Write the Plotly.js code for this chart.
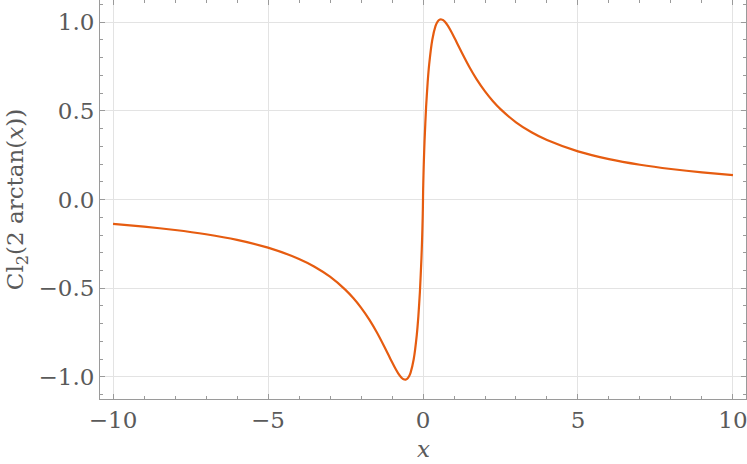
<!DOCTYPE html>
<html>
<head>
<meta charset="utf-8">
<script src="https://cdn.plot.ly/plotly-3.0.1.min.js"></script>
<style>
  body { margin: 0; background: #fff; }
  #chart { width: 747px; height: 464px; }
</style>
</head>
<body>
<div id="chart"></div>
<script>
// Cl2(2 arctan(x)), values
const xs = [-10, -9, -8, -7, -6, -5, -4, -3.5, -3, -2.5, -2.25, -2, -1.732, -1.5, -1.25, -1.1, -1, -0.9, -0.8,
  -0.7, -0.65, -0.6, -0.577, -0.55, -0.5, -0.45, -0.4, -0.3, -0.2, -0.15, -0.1, -0.05, -0.03, -0.02, -0.01,
  -0.005, -0.0025, -0.001, 0,
  0.001, 0.0025, 0.005, 0.01, 0.02, 0.03, 0.05, 0.1, 0.15, 0.2, 0.3, 0.4, 0.45, 0.5, 0.55, 0.577, 0.6, 0.65,
  0.7, 0.8, 0.9, 1, 1.1, 1.25, 1.5, 1.732, 2, 2.25, 2.5, 3, 3.5, 4, 5, 6, 7, 8, 9, 10];
const ys = [-0.1378, -0.1530, -0.1718, -0.1958, -0.2274, -0.2711, -0.3347, -0.3786, -0.4349, -0.5089, -0.5550,
  -0.6088, -0.6766, -0.7450, -0.8279, -0.8808, -0.9160, -0.9495, -0.9795, -1.0026, -1.0103, -1.0145, -1.0149,
  -1.0142, -1.0084, -0.9958, -0.9750, -0.9003, -0.7626, -0.6589, -0.5209, -0.3301, -0.2288, -0.1687, -0.0982,
  -0.0561, -0.0315, -0.0144, 0,
  0.0144, 0.0315, 0.0561, 0.0982, 0.1687, 0.2288, 0.3301, 0.5209, 0.6589, 0.7626, 0.9003, 0.9750, 0.9958,
  1.0084, 1.0142, 1.0149, 1.0145, 1.0103, 1.0026, 0.9795, 0.9495, 0.9160, 0.8808, 0.8279, 0.7450, 0.6766,
  0.6088, 0.5550, 0.5089, 0.4349, 0.3786, 0.3347, 0.2711, 0.2274, 0.1958, 0.1718, 0.1530, 0.1378];

const xTicks = [-10, -5, 0, 5, 10];
const yTicks = [-1.0, -0.5, 0.0, 0.5, 1.0];

const serif = 'DejaVu Serif';
const textGrey = '#5a5a5a';

const trace = {
  x: xs,
  y: ys,
  type: 'scatter',
  mode: 'lines',
  line: { color: '#e65c10', width: 2.2, shape: 'spline', smoothing: 0.6 },
  hoverinfo: 'x+y'
};

const axisStyle = {
  showline: true,
  linecolor: '#9a9a9a',
  linewidth: 1,
  mirror: 'ticks',
  ticks: 'inside',
  ticklen: 5,
  tickcolor: '#9a9a9a',
  showgrid: true,
  gridcolor: '#e3e3e3',
  gridwidth: 1,
  zeroline: false,
  ticklabeloverflow: 'allow',
  tickfont: { family: serif, size: 23, color: textGrey }
};

const layout = {
  width: 747,
  height: 464,
  margin: { l: 100, r: 1, t: 0, b: 65 },
  font: { family: serif, size: 23, color: textGrey },
  paper_bgcolor: '#ffffff',
  plot_bgcolor: '#ffffff',
  showlegend: false,
  xaxis: Object.assign({}, axisStyle, {
    range: [-10.42, 10.42],
    tickmode: 'array',
    tickvals: xTicks,
    minor: { dtick: 1, ticks: 'inside', ticklen: 3, tickcolor: '#9a9a9a', showgrid: false }
  }),
  yaxis: Object.assign({}, axisStyle, {
    range: [-1.124, 1.124],
    tickmode: 'array',
    tickvals: yTicks,
    tickformat: '.1f',
    minor: { dtick: 0.1, ticks: 'inside', ticklen: 3, tickcolor: '#9a9a9a', showgrid: false },
    title: { text: 'Cl<sub>2</sub>(2 arctan(<i>x</i>))', font: { family: serif, size: 23, color: textGrey }, standoff: 8 }
  }),
  // x-axis title as an annotation, pinned to the bottom edge of the page
  annotations: [{
    text: '<i>x</i>',
    xref: 'paper', yref: 'paper',
    x: 0.5, y: 0,
    xanchor: 'center', yanchor: 'bottom',
    yshift: -65,
    showarrow: false,
    font: { family: serif, size: 23, color: textGrey }
  }]
};

Plotly.newPlot('chart', [trace], layout, { staticPlot: true });
</script>
</body>
</html>
